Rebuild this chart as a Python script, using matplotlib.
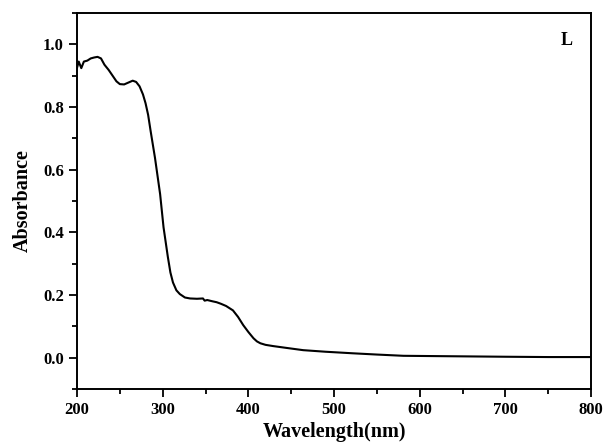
import numpy as np
import matplotlib
matplotlib.use("Agg")
import matplotlib.pyplot as plt
from matplotlib.ticker import MultipleLocator

# spectre UV-vis
wavelength = [200, 202, 205, 208, 212, 216, 220, 224, 228, 232, 237, 242, 246, 250,
              255, 260, 265, 269, 273, 277, 280, 283, 286, 291, 297, 301, 306, 309,
              312, 316, 320, 326, 332, 340, 347, 349, 352, 358, 363, 368, 374, 382,
              388, 394, 400, 406, 410, 414, 420, 429, 445, 464, 490, 522, 550, 581,
              620, 660, 700, 750, 800]
absorbance = [0.925, 0.945, 0.924, 0.945, 0.948, 0.955, 0.958, 0.960, 0.955, 0.935,
              0.918, 0.898, 0.882, 0.873, 0.872, 0.878, 0.884, 0.880, 0.866, 0.840,
              0.812, 0.775, 0.722, 0.638, 0.522, 0.416, 0.322, 0.272, 0.240, 0.215,
              0.203, 0.192, 0.189, 0.188, 0.189, 0.182, 0.184, 0.180, 0.177, 0.172,
              0.165, 0.151, 0.130, 0.104, 0.082, 0.062, 0.052, 0.046, 0.041, 0.037,
              0.031, 0.024, 0.019, 0.014, 0.010, 0.006, 0.005, 0.004, 0.003, 0.002,
              0.002]
x_ticks = [200, 300, 400, 500, 600, 700, 800]
y_ticks = [0.0, 0.2, 0.4, 0.6, 0.8, 1.0]

plt.rcParams['font.family'] = ['Liberation Serif', 'DejaVu Serif']
plt.rcParams['font.weight'] = 'bold'

fig = plt.figure(figsize=(6.05, 4.45), dpi=100)
ax = fig.add_axes([0.1273, 0.1258, 0.8496, 0.845])

ax.plot(wavelength, absorbance, color='black', lw=1.5)

ax.set_xlim(200, 800)
ax.set_ylim(-0.1, 1.1)
ax.set_xticks(x_ticks)
ax.set_yticks(y_ticks)
ax.xaxis.set_minor_locator(MultipleLocator(50))
ax.yaxis.set_minor_locator(MultipleLocator(0.1))
ax.set_yticklabels([f"{v:.1f}" for v in y_ticks])

ax.tick_params(which='both', direction='out', width=1.3, labelsize=12, top=False, right=False)
ax.tick_params(which='major', length=6)
ax.tick_params(which='minor', length=3.5)
for s in ax.spines.values():
    s.set_linewidth(1.4)

ax.set_xlabel('Wavelength(nm)', fontsize=14.5, fontweight='bold', labelpad=3)
ax.set_ylabel('Absorbance', fontsize=14.5, fontweight='bold', labelpad=7)
ax.text(0.953, 0.928, 'L', transform=ax.transAxes, fontsize=13, fontweight='bold',
        ha='center', va='center')

fig.savefig('out.png', dpi=100)
